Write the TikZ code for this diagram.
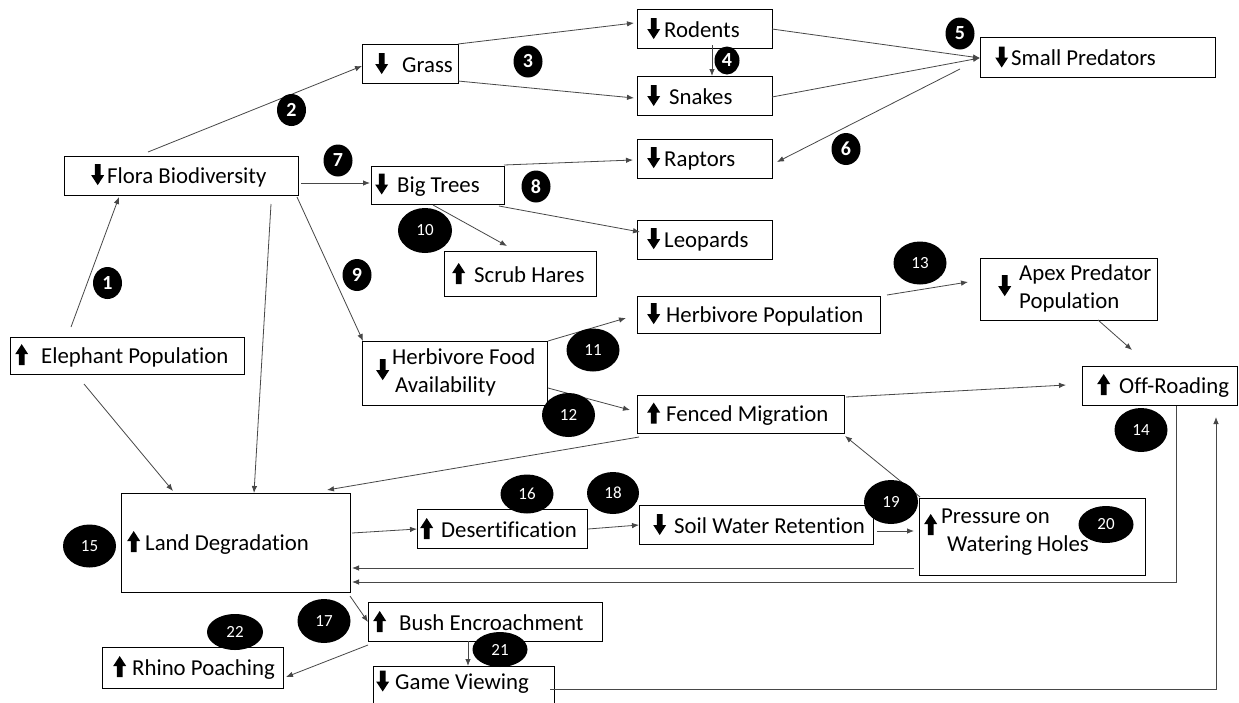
\documentclass[tikz,border=0pt]{standalone}
\usepackage{fontspec}
\setmainfont{Carlito}[Ligatures=NoCommon]
\usetikzlibrary{calc,shapes.geometric,arrows.meta}
\newcommand\dnar{\tikz[x=1pt,y=1pt,baseline=0pt]\fill (6.5,-2) -- (0,8) -- (3.6,8) -- (3.6,19) -- (9.4,19) -- (9.4,8) -- (13,8) -- cycle;}
\newcommand\upar{\tikz[x=1pt,y=1pt,baseline=0pt]\fill (6.5,19) -- (0,9) -- (3.6,9) -- (3.6,-2) -- (9.4,-2) -- (9.4,9) -- (13,9) -- cycle;}
\begin{document}
\begin{tikzpicture}[x=1pt,y=-1pt,
  box/.style={draw, line width=1.3pt, inner sep=0pt, anchor=north west},
  txt/.style={inner sep=0pt, anchor=west, font=\fontsize{22.8}{28}\selectfont},
  conn/.style={draw=black!72, line width=0.8pt, -{Latex[length=7pt,width=5.5pt]}},
  bs/.style={ellipse, fill=black, text=white, inner sep=0pt, minimum width=29pt, minimum height=32pt, font=\fontsize{20}{20}\selectfont\bfseries},
  bl/.style={ellipse, fill=black, text=white, inner sep=0pt, minimum width=53pt, minimum height=43pt, font=\fontsize{17}{17}\selectfont}]
\path[fill=white, use as bounding box] (0,0) rectangle (1239,702);
\clip (0,0) rectangle (1239,702);

% boxes
\node[box, minimum width=234pt, minimum height=39pt] (flora) at (64,156) {};
\node[txt] (floraT) at (91,175.5) {\dnar\hspace{3pt}Flora Biodiversity};
\node[box, minimum width=96pt, minimum height=39pt] (grass) at (362,44) {};
\node[txt] (grassT) at (375,63.5) {\dnar\hspace{14pt}Grass};
\node[box, minimum width=133pt, minimum height=38pt] (bigtrees) at (371,166) {};
\node[txt] (bigtreesT) at (375,185) {\dnar\hspace{9pt}Big Trees};
\node[box, minimum width=135pt, minimum height=39pt] (rodents) at (637,9) {};
\node[txt] (rodentsT) at (647,28.5) {\dnar\hspace{4pt}Rodents};
\node[box, minimum width=135pt, minimum height=39pt] (snakes) at (637,76) {};
\node[txt] (snakesT) at (647,95.5) {\dnar\hspace{9pt}Snakes};
\node[box, minimum width=135pt, minimum height=39pt] (raptors) at (637,139) {};
\node[txt] (raptorsT) at (647,158.5) {\dnar\hspace{4pt}Raptors};
\node[box, minimum width=135pt, minimum height=39pt] (leopards) at (637,220) {};
\node[txt] (leopardsT) at (647,239.5) {\dnar\hspace{4pt}Leopards};
\node[box, minimum width=235pt, minimum height=40pt] (smallpred) at (980,37) {};
\node[txt] (smallpredT) at (995,57) {\dnar\hspace{3pt}Small Predators};
\node[box, minimum width=234pt, minimum height=37pt] (elephant) at (10,337) {};
\node[txt] (elephantT) at (15,355.5) {\upar\hspace{13pt}Elephant Population};
\node[box, minimum width=185pt, minimum height=64pt] (herbfood) at (362,341) {};
\node[txt] (herbfoodT) at (376,373) {\dnar\hspace{3pt}\begin{tabular}{@{}l@{}}Herbivore Food\\\hspace{3pt}Availability\end{tabular}};
\node[box, minimum width=152pt, minimum height=45pt] (scrub) at (444,251) {};
\node[txt] (scrubT) at (452,273.5) {\upar\hspace{9pt}Scrub Hares};
\node[box, minimum width=243pt, minimum height=37pt] (herbpop) at (637,296) {};
\node[txt] (herbpopT) at (647,314.5) {\dnar\hspace{6pt}Herbivore Population};
\node[box, minimum width=207pt, minimum height=38pt] (fenced) at (637,395) {};
\node[txt] (fencedT) at (647,414) {\upar\hspace{6pt}Fenced Migration};
\node[box, minimum width=177pt, minimum height=62pt] (apex) at (980,258) {};
\node[txt] (apexT) at (998,289) {\dnar\hspace{8pt}\begin{tabular}{@{}l@{}}Apex Predator\\Population\end{tabular}};
\node[box, minimum width=155pt, minimum height=39pt] (offroad) at (1082,366) {};
\node[txt] (offroadT) at (1097,385.5) {\upar\hspace{9pt}Off-Roading};
\node[box, minimum width=229pt, minimum height=99pt] (landdeg) at (121,493) {};
\node[txt] (landdegT) at (127,542.5) {\upar\hspace{5pt}Land Degradation};
\node[box, minimum width=170pt, minimum height=39pt] (desert) at (417,509) {};
\node[txt] (desertT) at (420,528.5) {\upar\hspace{8pt}Desertification};
\node[box, minimum width=234pt, minimum height=39pt] (soil) at (639,505) {};
\node[txt] (soilT) at (653,524.5) {\dnar\hspace{8pt}Soil Water Retention};
\node[box, minimum width=226pt, minimum height=77pt] (pressure) at (919,498) {};
\node[txt, anchor=base west] (pressureT) at (924,523) {\raisebox{-10pt}{\upar}\hspace{4pt}\begin{tabular}[t]{@{}l@{}}Pressure on\\\hspace{6pt}Watering Holes\end{tabular}};
\node[box, minimum width=234pt, minimum height=39pt] (bush) at (368,602) {};
\node[txt] (bushT) at (373,621.5) {\upar\hspace{13pt}Bush Encroachment};
\node[box, minimum width=181pt, minimum height=41pt] (rhino) at (102,647) {};
\node[txt] (rhinoT) at (113,667.5) {\upar\hspace{6pt}Rhino Poaching};
\node[box, minimum width=181pt, minimum height=42pt] (game) at (373,666) {};
\node[txt] (gameT) at (376,682) {\dnar\hspace{6pt}Game Viewing};

% connectors
\draw[conn] ([shift={(61,-10)}]elephant.north west) -- ([shift={(55,41)}]flora.north west);
\draw[conn] ([shift={(84,-4)}]flora.north west) -- ([shift={(0,22)}]grass.north west);
\draw[conn] ([shift={(96,0)}]grass.north west) -- ([shift={(-3,14)}]rodents.north west);
\draw[conn] ([shift={(96,37)}]grass.north west) -- ([shift={(-3,22)}]snakes.north west);
\draw[conn] ([shift={(75,36)}]rodents.north west) -- ([shift={(75,0)}]snakes.north west);
\draw[conn] ([shift={(135,20)}]rodents.north west) -- ([shift={(0,21)}]smallpred.north west);
\draw[conn] ([shift={(135,21)}]snakes.north west) -- ([shift={(0,21)}]smallpred.north west);
\draw[conn] ([shift={(-20,32)}]smallpred.north west) -- ([shift={(140,23)}]raptors.north west);
\draw[conn] ([shift={(237,27)}]flora.north west) -- ([shift={(-1,17)}]bigtrees.north west);
\draw[conn] ([shift={(133,-1)}]bigtrees.north west) -- ([shift={(-4,21)}]raptors.north west);
\draw[conn] ([shift={(128,40)}]bigtrees.north west) -- ([shift={(3,12)}]leopards.north west);
\draw[conn] ([shift={(62,39)}]bigtrees.north west) -- ([shift={(63,-5)}]scrub.north west);
\draw[conn] ([shift={(233,41)}]flora.north west) -- ([shift={(1,0)}]herbfood.north west);
\draw[conn] ([shift={(186,0)}]herbfood.north west) -- ([shift={(-11,22)}]herbpop.north west);
\draw[conn] ([shift={(186,47)}]herbfood.north west) -- ([shift={(-7,15)}]fenced.north west);
\draw[conn] ([shift={(250,-1)}]herbpop.north west) -- ([shift={(-12,24)}]apex.north west);
\draw[conn] ([shift={(118,62)}]apex.north west) -- ([shift={(50,-16)}]offroad.north west);
\draw[conn] ([shift={(209,2)}]fenced.north west) -- ([shift={(-16,19)}]offroad.north west);
\draw[conn] ([shift={(2,42)}]fenced.north west) -- ([shift={(206,-3)}]landdeg.north west);
\draw[conn] ([shift={(74,47)}]elephant.north west) -- ([shift={(52,-2)}]landdeg.north west);
\draw[conn] ([shift={(207,48)}]flora.north west) -- ([shift={(133,0)}]landdeg.north west);
\draw[conn] ([shift={(231,40)}]landdeg.north west) -- ([shift={(0,20)}]desert.north west);
\draw[conn] ([shift={(171,20)}]desert.north west) -- ([shift={(0,20)}]soil.north west);
\draw[conn] ([shift={(238,26)}]soil.north west) -- ([shift={(-5,33)}]pressure.north west);
\draw[conn] ([shift={(1,-1)}]pressure.north west) -- ([shift={(208,41)}]fenced.north west);
\draw[conn] ([shift={(-5,70)}]pressure.north west) -- ([shift={(231,75)}]landdeg.north west);
\draw[conn] ([shift={(94,40)}]offroad.north west) |- ([shift={(231,89)}]landdeg.north west);
\draw[conn] ([shift={(177,23)}]game.north west) -| ([shift={(134,51)}]offroad.north west);
\draw[conn] ([shift={(229,103)}]landdeg.north west) -- ([shift={(0,20)}]bush.north west);
\draw[conn] ([shift={(0,43)}]bush.north west) -- ([shift={(184,30)}]rhino.north west);
\draw[conn] ([shift={(100,39)}]bush.north west) -- ([shift={(95,0)}]game.north west);

% badges
\node[bs] (b1) at (107.5,283) {1};
\node[bs] (b2) at (291.5,110) {2};
\node[bs] (b3) at (528,61.5) {3};
\node[bs, minimum width=25pt, minimum height=28pt] (b4) at (727,60.5) {4};
\node[bs] (b5) at (960,33.5) {5};
\node[bs] (b6) at (846,149) {6};
\node[bs] (b7) at (338,160.5) {7};
\node[bs] (b8) at (536,186.5) {8};
\node[bs] (b9) at (357,275) {9};
\node[bl, minimum width=54pt, minimum height=45pt] (b10) at (425,230.5) {10};
\node[bl] (b11) at (593,350) {11};
\node[bl, minimum height=44pt] (b12) at (568.5,415) {12};
\node[bl] (b13) at (920,263) {13};
\node[bl, minimum height=44pt] (b14) at (1141,430) {14};
\node[bl] (b15) at (89.5,546) {15};
\node[bl, minimum height=39pt] (b16) at (527,494) {16};
\node[bl, minimum height=44pt] (b17) at (324,621) {17};
\node[bl, minimum width=52pt, minimum height=42pt] (b18) at (613,493) {18};
\node[bl, minimum width=54pt, minimum height=44pt] (b19) at (891,502) {19};
\node[bl, minimum width=55pt, minimum height=37pt] (b20) at (1106,524.5) {20};
\node[bl, minimum width=55pt, minimum height=35pt] (b21) at (500,649.5) {21};
\node[bl, minimum width=56pt, minimum height=36pt] (b22) at (235,632) {22};
\end{tikzpicture}
\end{document}
